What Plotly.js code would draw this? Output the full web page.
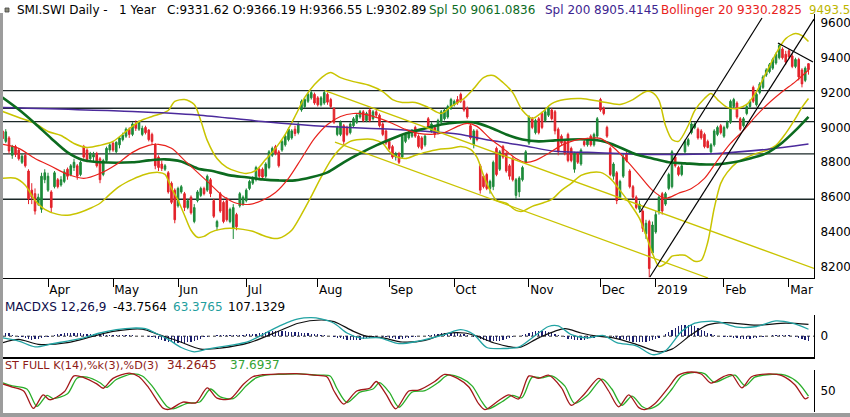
<!DOCTYPE html>
<html>
<head>
<meta charset="utf-8">
<script src="https://cdn.plot.ly/plotly-3.0.1.min.js"></script>
<style>
  html, body { margin: 0; padding: 0; background: #fff; }
  #chart { width: 850px; height: 417px; }
</style>
</head>
<body>
<div id="chart"></div>
<script>
// SMI daily sessions, index 0 = first visible day (mid March 2018)
const open = [
  8980, 8920, 8940, 8840, 8890, 8870, 8800, 8840, 8750, 8640,
  8620, 8560, 8530, 8700, 8640, 8630, 8660, 8700, 8670, 8690,
  8760, 8730, 8770, 8780, 8730, 8890, 8870, 8820, 8830, 8850,
  8820, 8730, 8810, 8870, 8910, 8860, 8900, 8930, 8950, 8990,
  8960, 9020, 8990, 8960, 9000, 8985, 8960, 8900, 8830, 8790,
  8760, 8740, 8680, 8640, 8550, 8630, 8620, 8540, 8600, 8460,
  8580, 8610, 8650, 8640, 8700, 8580, 8430, 8620, 8570, 8580,
  8460, 8420, 8500, 8550, 8560, 8580, 8650, 8680, 8700, 8760,
  8760, 8720, 8770, 8840, 8890, 8860, 8870, 8900, 8930, 8940,
  8990, 8970, 9100, 9120, 9150, 9170, 9190, 9170, 9130, 9140,
  9190, 9160, 9110, 8960, 8960, 9010, 9000, 8970, 9010, 9030,
  9060, 9090, 9040, 9100, 9050, 9090, 9070, 9020, 8980, 8920,
  8890, 8830, 8850, 8830, 8920, 8940, 8950, 9000, 8950, 8940,
  8900, 9050, 8980, 9000, 8970, 9030, 9050, 9060, 9110, 9130,
  9160, 9190, 9150, 9110, 9010, 8900, 8980, 8780, 8720, 8730,
  8650, 8660, 8880, 8760, 8890, 8850, 8780, 8820, 8610, 8630,
  8700, 8800, 8910, 9050, 8970, 9050, 9080, 9040, 9070, 9100,
  9090, 8990, 8950, 8920, 8960, 8880, 8760, 8850, 8790, 8920,
  8900, 8950, 8900, 8950, 9160, 9110, 9000, 8880, 8720, 8740,
  8600, 8720, 8850, 8750, 8660, 8600, 8530, 8520, 8390, 8460,
  8280, 8400, 8520, 8620, 8560, 8650, 8660, 8830, 8770, 8730,
  8860, 8900, 8970, 9000, 8990, 8980, 8960, 8920, 8860, 8900,
  8960, 9010, 8950, 9000, 9030, 9120, 9140, 9050, 9010, 9080,
  9120, 9230, 9130, 9200, 9230, 9300, 9320, 9340, 9370, 9400,
  9450, 9420, 9440, 9410, 9350, 9390, 9330, 9270, 9366.19
];
const high = [
  8995, 8990, 8950, 8900, 8900, 8880, 8850, 8850, 8760, 8680,
  8650, 8620, 8740, 8760, 8740, 8640, 8750, 8710, 8720, 8760,
  8770, 8790, 8820, 8790, 8810, 8900, 8880, 8860, 8860, 8860,
  8830, 8820, 8890, 8910, 8920, 8920, 8950, 8970, 9000, 9000,
  9030, 9040, 9040, 9010, 9010, 8990, 8970, 8910, 8840, 8810,
  8790, 8750, 8690, 8650, 8660, 8670, 8630, 8590, 8610, 8560,
  8640, 8660, 8660, 8730, 8710, 8590, 8470, 8630, 8580, 8600,
  8540, 8560, 8510, 8630, 8610, 8650, 8700, 8720, 8780, 8770,
  8770, 8800, 8870, 8890, 8900, 8870, 8930, 8960, 9000, 8990,
  9010, 9030, 9160, 9170, 9200, 9210, 9200, 9180, 9180, 9210,
  9200, 9170, 9115, 9010, 9040, 9020, 9010, 9030, 9060, 9080,
  9100, 9100, 9090, 9110, 9100, 9100, 9080, 9030, 8990, 8930,
  8900, 8860, 8860, 8960, 8970, 8980, 8990, 9010, 8960, 8950,
  8960, 9060, 9030, 9010, 9050, 9100, 9110, 9130, 9170, 9160,
  9180, 9200, 9160, 9120, 9020, 8990, 8990, 8790, 8730, 8740,
  8700, 8810, 8890, 8870, 8900, 8860, 8790, 8830, 8710, 8720,
  8780, 8870, 9070, 9060, 9050, 9060, 9090, 9100, 9120, 9110,
  9100, 9000, 8960, 8930, 8970, 8890, 8860, 8860, 8880, 8930,
  8940, 8960, 8970, 9060, 9170, 9120, 9010, 8890, 8800, 8750,
  8700, 8850, 8860, 8760, 8670, 8610, 8580, 8530, 8470, 8470,
  8460, 8520, 8610, 8630, 8630, 8740, 8870, 8840, 8780, 8790,
  8930, 8940, 9030, 9030, 9000, 8990, 8970, 8930, 8910, 8990,
  9010, 9020, 9010, 9040, 9160, 9170, 9150, 9060, 9060, 9130,
  9160, 9240, 9200, 9260, 9300, 9340, 9370, 9400, 9430, 9485,
  9460, 9440, 9450, 9420, 9400, 9400, 9340, 9350, 9366.55
];
const low = [
  8920, 8910, 8850, 8820, 8830, 8810, 8790, 8770, 8560, 8560,
  8500, 8550, 8510, 8680, 8630, 8510, 8650, 8650, 8660, 8680,
  8700, 8720, 8750, 8700, 8720, 8820, 8800, 8810, 8800, 8770,
  8680, 8720, 8800, 8855, 8860, 8850, 8880, 8920, 8940, 8940,
  8950, 8980, 8980, 8950, 8960, 8920, 8900, 8760, 8750, 8750,
  8750, 8620, 8560, 8450, 8540, 8620, 8520, 8530, 8500, 8450,
  8570, 8600, 8610, 8630, 8600, 8480, 8410, 8510, 8450, 8460,
  8450, 8360, 8410, 8540, 8550, 8570, 8640, 8670, 8690, 8700,
  8700, 8710, 8760, 8830, 8840, 8770, 8860, 8890, 8920, 8930,
  8950, 8960, 9090, 9110, 9140, 9160, 9130, 9120, 9120, 9130,
  9130, 9110, 9020, 8950, 8950, 8900, 8950, 8960, 9000, 9020,
  9050, 9030, 9030, 9030, 9040, 9060, 9000, 8950, 8900, 8870,
  8820, 8810, 8790, 8820, 8910, 8930, 8940, 8940, 8880, 8870,
  8890, 8990, 8970, 8940, 8960, 9020, 9040, 9050, 9100, 9120,
  9130, 9140, 9090, 9050, 8930, 8880, 8920, 8620, 8650, 8640,
  8620, 8640, 8720, 8750, 8820, 8740, 8700, 8690, 8590, 8600,
  8690, 8790, 8900, 8990, 8960, 8960, 8990, 9030, 9060, 9040,
  8960, 8840, 8900, 8840, 8800, 8800, 8740, 8790, 8780, 8890,
  8890, 8890, 8890, 8940, 9090, 9070, 8940, 8720, 8700, 8560,
  8590, 8710, 8800, 8650, 8590, 8530, 8510, 8400, 8360, 8140,
  8270, 8390, 8500, 8500, 8550, 8640, 8650, 8770, 8720, 8720,
  8850, 8890, 8960, 8990, 8930, 8930, 8880, 8880, 8850, 8890,
  8950, 8960, 8940, 8990, 9020, 9110, 9050, 8980, 9000, 9070,
  9110, 9140, 9120, 9190, 9220, 9290, 9310, 9330, 9360, 9390,
  9390, 9360, 9395, 9340, 9340, 9270, 9230, 9260, 9302.89
];
const close = [
  8935, 8975, 8865, 8890, 8845, 8820, 8835, 8780, 8590, 8600,
  8520, 8600, 8720, 8740, 8720, 8540, 8740, 8660, 8700, 8745,
  8720, 8780, 8800, 8720, 8800, 8830, 8815, 8850, 8845, 8780,
  8700, 8810, 8880, 8900, 8870, 8915, 8940, 8955, 8990, 8960,
  9020, 8995, 9030, 8995, 8970, 8930, 8920, 8780, 8770, 8765,
  8780, 8630, 8570, 8470, 8650, 8660, 8540, 8580, 8510, 8540,
  8630, 8650, 8620, 8720, 8620, 8490, 8460, 8520, 8460, 8470,
  8530, 8540, 8430, 8620, 8600, 8640, 8690, 8710, 8770, 8720,
  8715, 8790, 8860, 8880, 8850, 8780, 8920, 8950, 8990, 8980,
  8965, 9020, 9150, 9160, 9190, 9200, 9140, 9130, 9170, 9200,
  9145, 9120, 9030, 9000, 9030, 8920, 8960, 9020, 9050, 9070,
  9090, 9040, 9080, 9040, 9090, 9070, 9010, 8960, 8910, 8880,
  8830, 8850, 8800, 8950, 8960, 8970, 8985, 8950, 8890, 8880,
  8950, 9000, 9020, 8960, 9040, 9090, 9100, 9120, 9160, 9150,
  9140, 9150, 9100, 9060, 8940, 8980, 8930, 8640, 8660, 8650,
  8690, 8800, 8730, 8860, 8830, 8750, 8720, 8700, 8700, 8710,
  8770, 8860, 9060, 9000, 9040, 8970, 9000, 9090, 9110, 9050,
  8980, 8860, 8910, 8850, 8810, 8810, 8850, 8800, 8870, 8900,
  8930, 8900, 8960, 9050, 9100, 9080, 8950, 8730, 8790, 8580,
  8690, 8830, 8810, 8660, 8600, 8540, 8560, 8420, 8450, 8190,
  8440, 8500, 8600, 8520, 8620, 8730, 8860, 8780, 8730, 8780,
  8920, 8930, 9020, 9020, 8940, 8940, 8890, 8885, 8900, 8980,
  9000, 8970, 9000, 9030, 9150, 9160, 9060, 8990, 9050, 9120,
  9150, 9150, 9190, 9250, 9290, 9330, 9360, 9390, 9420, 9470,
  9400, 9375, 9405, 9350, 9390, 9290, 9250, 9340, 9331.62
];

// moving averages and Bollinger bands at sample sessions
const sma50At = [0, 5, 10, 15, 20, 25, 30, 40, 45, 50, 55, 60, 65, 70, 75, 80, 85, 90, 95, 100, 105, 110, 115, 120, 125, 130, 135, 140, 145, 150, 155, 160, 165, 170, 175, 180, 185, 190, 195, 200, 205, 210, 215, 220, 225, 230, 235, 240, 244, 248];
const sma50 = [9172, 9103, 9023, 8937, 8857, 8811, 8800, 8800, 8811, 8817, 8805, 8765, 8748, 8725, 8714, 8702, 8696, 8696, 8714, 8742, 8800, 8851, 8897, 8937, 8971, 8994, 9017, 9029, 9029, 9000, 8960, 8931, 8920, 8926, 8931, 8931, 8920, 8885, 8845, 8822, 8800, 8794, 8788, 8788, 8800, 8822, 8851, 8914, 8983, 9061];

const sma200At = [0, 40, 60, 80, 100, 120, 140, 150, 160, 170, 180, 200, 220, 235, 248];
const sma200 = [9115, 9092, 9072, 9034, 9005, 8990, 8962, 8926, 8897, 8863, 8857, 8845, 8851, 8874, 8905];

const bollMidAt = [0, 5, 10, 15, 20, 25, 30, 35, 40, 45, 48, 52, 56, 60, 64, 68, 72, 76, 80, 84, 88, 92, 96, 100, 104, 108, 112, 116, 120, 124, 128, 132, 136, 140, 143, 146, 150, 154, 158, 161, 164, 168, 172, 176, 180, 184, 188, 192, 196, 200, 204, 208, 212, 216, 220, 224, 228, 232, 236, 240, 244, 248];
const bollMid = [8903, 8880, 8822, 8777, 8731, 8708, 8736, 8788, 8857, 8897, 8903, 8880, 8811, 8742, 8673, 8604, 8565, 8559, 8582, 8627, 8708, 8822, 8937, 9017, 9063, 9080, 9074, 9052, 9023, 8989, 8966, 8960, 8971, 9006, 9023, 9006, 8937, 8880, 8822, 8800, 8811, 8851, 8897, 8926, 8937, 8937, 8885, 8811, 8725, 8639, 8593, 8622, 8650, 8708, 8811, 8908, 8983, 9069, 9143, 9206, 9263, 9330];

const bollUpAt = [0, 5, 10, 14, 18, 22, 26, 30, 34, 38, 42, 46, 49, 51, 53, 56, 59, 61, 63, 66, 69, 72, 75, 78, 81, 84, 87, 90, 93, 96, 99, 101, 104, 108, 113, 117, 120, 123, 127, 131, 135, 138, 142, 145, 148, 151, 154, 157, 160, 163, 166, 169, 173, 178, 184, 190, 194, 198, 200, 202, 204, 206, 208, 211, 213, 216, 218, 220, 223, 226, 229, 232, 235, 238, 241, 244, 246, 248];
const bollUp = [9092, 9057, 9023, 8977, 8954, 8908, 8885, 8897, 8920, 8977, 9034, 9063, 9080, 9097, 9149, 9160, 9132, 9040, 8926, 8822, 8771, 8748, 8736, 8754, 8817, 8880, 8960, 9063, 9172, 9246, 9298, 9315, 9286, 9263, 9241, 9206, 9160, 9143, 9143, 9115, 9080, 9120, 9166, 9223, 9286, 9298, 9258, 9200, 9097, 9052, 9086, 9137, 9160, 9166, 9149, 9132, 9160, 9206, 9200, 9155, 9011, 8931, 8920, 9011, 9097, 9166, 9195, 9160, 9115, 9109, 9132, 9206, 9315, 9424, 9510, 9539, 9527, 9493];

const bollLowAt = [0, 4, 7, 10, 13, 17, 20, 24, 27, 30, 33, 36, 40, 44, 48, 50, 52, 54, 56, 58, 60, 62, 64, 67, 70, 74, 77, 80, 83, 85, 87, 89, 92, 95, 98, 101, 104, 107, 110, 114, 117, 119, 121, 124, 127, 130, 134, 138, 141, 144, 146, 148, 150, 152, 155, 158, 160, 163, 166, 169, 172, 175, 178, 181, 184, 187, 190, 193, 196, 198, 200, 202, 204, 206, 208, 210, 213, 215, 217, 219, 221, 223, 226, 229, 232, 235, 238, 241, 244, 246, 248];
const bollLow = [8708, 8708, 8668, 8582, 8530, 8501, 8496, 8513, 8536, 8565, 8616, 8662, 8702, 8731, 8742, 8731, 8650, 8582, 8496, 8410, 8370, 8375, 8398, 8415, 8421, 8415, 8404, 8381, 8364, 8364, 8381, 8410, 8501, 8604, 8713, 8811, 8880, 8920, 8931, 8931, 8908, 8862, 8834, 8822, 8840, 8857, 8874, 8880, 8891, 8874, 8828, 8725, 8639, 8582, 8565, 8524, 8519, 8547, 8565, 8587, 8639, 8679, 8725, 8742, 8742, 8708, 8639, 8565, 8478, 8381, 8278, 8203, 8220, 8261, 8267, 8267, 8232, 8238, 8341, 8536, 8679, 8742, 8800, 8828, 8851, 8868, 8897, 8966, 9052, 9115, 9166];

// support / resistance levels and trend lines [idx0, price0, idx1, price1]
const levels = [9211, 9110, 9033, 8848, 8588];
const yellowTrends = [[99.2, 9211, 249.7, 8191], [102.3, 8916, 217.1, 8136]];
const blackTrends = [[196.2, 8515, 233.7, 9628], [199.2, 8142, 249.7, 9622], [238.6, 9485, 249.4, 9376]];

// MACD 12,26,9
const macdAt = [0, 5, 10, 15, 20, 25, 30, 35, 40, 44, 47, 51, 55, 59, 63, 67, 71, 76, 81, 86, 91, 95, 98, 102, 106, 110, 116, 122, 128, 136, 141, 145, 149, 154, 159, 163, 168, 171, 175, 180, 185, 189, 195, 200, 204, 209, 213, 216, 220, 226, 232, 238, 243, 248];
const macd = [-15, -44, -97, -71, -44, -15, 29, 59, 74, 68, 29, -29, -103, -142, -118, -97, -80, -44, 29, 103, 157, 168, 157, 118, 29, -15, -15, -68, -44, 15, 59, 15, -103, -112, -97, -15, 88, 94, 15, -15, 6, -59, -88, -168, -133, 44, 118, 133, 133, 82, 88, 139, 118, 63];
const signalAt = [0, 5, 11, 20, 28, 34, 43, 48, 54, 61, 67, 76, 86, 91, 98, 102, 108, 112, 117, 123, 130, 136, 142, 146, 151, 159, 165, 173, 178, 183, 188, 195, 202, 206, 212, 217, 222, 232, 241, 248];
const signal = [-59, -29, -74, -59, 0, 44, 65, 15, -44, -118, -109, -59, 59, 118, 147, 133, 44, 0, -15, -53, -38, 21, 29, 0, -59, -103, -15, 68, 29, 0, -15, -74, -142, -118, 15, 103, 124, 100, 118, 107];
const hist = [
  40, 32, 25, 15, 5,
  -5, -12, -20, -28, -32, -30, -25, -18, -10, -3,
  5, 12, 18, 22, 25, 27, 28, 28, 27, 25, 24, 22, 20, 19, 18,
  17, 16, 15, 15, 14, 13, 12, 11, 10, 9, 8, 6, 5, 3, 1,
  -4, -10, -18, -26, -34, -42, -50, -56, -60, -62, -62, -60, -56, -50, -42, -33, -22, -12,
  -4, 1, 4, 7, 9, 11, 12, 13, 14, 14, 15, 15, 16,
  17, 20, 24, 28, 32, 36, 40, 43, 45, 46, 45, 44, 42, 40, 38, 36, 33, 30, 27, 24,
  20, 16, 12, 8, 4, 0, -6, -13, -20, -27, -33, -37, -38, -36, -32, -27, -21, -15, -10, -6,
  -2, -6, -11, -16, -20, -23, -24, -22, -18, -14, -10, -6, -2, 2, 6,
  10, 14, 18, 22, 26, 28, 30, 31, 30, 28, 24, 18, 10, 2, -8,
  -12, -22, -32, -40, -45, -46, -44, -40, -34, -26, -18, -10, -2, 6, 14, 22, 30,
  38, 44, 48, 50, 48, 42, 34, 24, 12, 0, -12, -22, -30, -36, -38, -36, -32, -26, -20, -14, -8, -2, 4,
  6, 2, -6, -14, -22, -30, -38, -44, -50, -54, -56, -56, -52, -46, -38,
  -30, -15, 2, 20, 40, 60, 78, 92, 102, 106, 105, 100, 90, 76, 60, 44, 30, 18, 10, 4,
  0, -4, -8, -12, -16, -20, -24, -26, -26, -24, -20, -15, -10, -5, 0,
  4, 8, 12, 14, 14, 12, 8, 2, -6, -16, -26, -36, -44
];

// full stochastic 14,3,3
const stochKAt = [0, 3, 6.5, 9.5, 12.5, 14.5, 19, 22, 25, 29, 31, 34, 39, 42, 45, 49.5, 51.5, 55.5, 59.5, 63, 66, 70, 74, 77, 80, 85, 90.5, 95.8, 99.8, 102, 105, 109, 113, 115, 118, 121, 125, 128, 133, 136, 140, 143.5, 146.5, 148.4, 152.7, 155.8, 158.8, 162, 165, 168, 172, 175, 179, 183.5, 186.5, 189.6, 192.7, 195.8, 197.6, 200.7, 205, 208, 212, 215, 218, 222, 224.4, 227.5, 230.5, 235.8, 239.8, 243.8, 247, 248];
const stochK = [68, 60, 50, 6, 40, 28, 48, 88, 84, 68, 57, 82, 95, 86, 58, 6, 4, 22, 20, 58, 32, 30, 66, 86, 91, 93, 94, 90, 86, 50, 17, 50, 57, 74, 42, 5, 50, 52, 74, 92, 82, 60, 18, 3, 26, 40, 30, 88, 82, 90, 58, 14, 42, 82, 50, 10, 40, 8, 3, 18, 60, 90, 98, 93, 70, 87, 91, 58, 86, 93, 89, 66, 30, 34];
const stochDAt = [0, 3, 7.5, 10.6, 13.7, 15.5, 20, 23, 26, 30, 32, 35, 40, 43, 46, 50.6, 52.5, 56.8, 60.8, 64, 67, 71, 75, 78, 81, 86, 91.5, 96.8, 100.8, 103, 106, 110, 114, 116, 119, 122, 126, 130, 134, 137, 141, 144.5, 147.5, 149.4, 153.7, 156.8, 159.8, 163, 166, 169, 173, 176, 180, 184.5, 187.5, 190.6, 193.7, 196.8, 198.6, 201.7, 206, 209, 213, 216, 219, 223, 225.4, 228.5, 231.5, 236.8, 240.8, 244.8, 248];
const stochD = [71, 63, 55, 11, 39, 31, 43, 83, 85, 71, 59, 79, 93, 88, 63, 11, 5, 19, 23, 55, 35, 31, 63, 83, 90, 92, 93, 90, 88, 55, 21, 47, 55, 71, 47, 9, 47, 51, 71, 90, 83, 63, 23, 5, 23, 39, 33, 85, 83, 88, 63, 19, 39, 80, 55, 14, 37, 11, 5, 15, 55, 88, 97, 94, 72, 85, 90, 63, 85, 92, 90, 71, 37];

// axis labels
const monthStart = [14, 34, 54, 75, 97, 119, 139, 162, 184, 201, 222, 242];
const monthLabels = ['Apr', 'May', 'Jun', 'Jul', 'Aug', 'Sep', 'Oct', 'Nov', 'Dec', '2019', 'Feb', 'Mar'];
const priceTicks = [8200, 8400, 8600, 8800, 9000, 9200, 9400, 9600];

const days = close.map((_, i) => i);
const xRange = [0.15, 249.7];

const YELLOW = '#c9c400';
const GREEN = '#0c6b1f';

function line(x, y, color, width, xa, ya) {
  return {
    type: 'scatter', mode: 'lines', x: x, y: y,
    xaxis: xa || 'x', yaxis: ya || 'y',
    line: { color: color, width: width, shape: 'spline', smoothing: 0.8 },
    hoverinfo: 'skip'
  };
}

const data = [
  line(bollUpAt, bollUp, YELLOW, 1.5),
  line(bollLowAt, bollLow, YELLOW, 1.5),
  line(sma200At, sma200, '#4b2a9c', 1.5),
  line(sma50At, sma50, GREEN, 2.6),
  line(bollMidAt, bollMid, '#e8221c', 1.2),
  {
    type: 'candlestick', x: days, open: open, high: high, low: low, close: close,
    xaxis: 'x', yaxis: 'y', whiskerwidth: 0, hoverinfo: 'skip',
    increasing: { line: { color: '#1d8a3a', width: 1 }, fillcolor: '#1d8a3a' },
    decreasing: { line: { color: '#e3232b', width: 1 }, fillcolor: '#e3232b' }
  },
  {
    type: 'bar', x: days, y: hist, xaxis: 'x2', yaxis: 'y2', width: 0.45,
    marker: { color: '#1c1f6e', line: { width: 0 } }, hoverinfo: 'skip'
  },
  line(signalAt, signal, '#111111', 1.2, 'x2', 'y2'),
  line(macdAt, macd, '#22a3a3', 1.3, 'x2', 'y2'),
  line(stochDAt, stochD, '#2aae2a', 1.3, 'x3', 'y3'),
  line(stochKAt, stochK, '#a3181a', 1.3, 'x3', 'y3')
];

// pixel helpers for texts and frame (plot area 3..814 x 14..412)
const px = (x) => (x - 3) / 811;
const py = (y) => (412 - y) / 398;

function label(text, x, y, color, size) {
  return {
    text: text, x: px(x), y: py(y), xref: 'paper', yref: 'paper',
    xanchor: 'left', yanchor: 'middle', showarrow: false, borderpad: 0,
    font: { family: 'DejaVu Sans, sans-serif', size: size || 12, color: color }
  };
}

const annotations = [
  label('SMI.SWI Daily -\u00a0\u00a0 1 Year', 16, 10, '#000'),
  label('C:9331.62 O:9366.19 H:9366.55 L:9302.89', 166, 10, '#000'),
  label('Spl 50 9061.0836', 428, 10, GREEN),
  label('Spl 200 8905.4145', 544, 10, '#3d2590'),
  label('Bollinger 20 9330.2825', 660, 10, '#e8221c'),
  label('9493.5', 808, 10, '#bdb600', 11.8),
  label('MACDXS 12,26,9', 4, 307, '#0d0d4a'),
  label('-43.7564', 112, 307, '#000'),
  label('63.3765', 172, 307, '#1f9e9e'),
  label('107.1329', 227, 307, '#000'),
  label('ST FULL K(14),%k(3),%D(3)', 4, 365, '#8e1a16', 11.2),
  label('34.2645', 166, 365, '#8e1a16'),
  label('37.6937', 229, 365, '#34a234')
];

const shapes = [];
levels.forEach((v) => shapes.push({
  type: 'line', xref: 'paper', yref: 'y', x0: 0, x1: 1, y0: v, y1: v,
  line: { color: '#1b2828', width: 1.3 }, layer: 'below'
}));
yellowTrends.forEach((t) => shapes.push({
  type: 'line', xref: 'x', yref: 'y', x0: t[0], y0: t[1], x1: t[2], y1: t[3],
  line: { color: YELLOW, width: 1.3 }
}));
blackTrends.forEach((t) => shapes.push({
  type: 'line', xref: 'x', yref: 'y', x0: t[0], y0: t[1], x1: t[2], y1: t[3],
  line: { color: '#000', width: 1.2 }
}));
// dotted zero line of the MACD panel
shapes.push({
  type: 'line', xref: 'paper', yref: 'y2', x0: 0, x1: 1, y0: 0, y1: 0,
  line: { color: '#333', width: 1, dash: 'dot' }, layer: 'below'
});
// window frame and the little icon before the title
shapes.push({
  type: 'line', xref: 'paper', yref: 'paper', x0: px(1.5), x1: px(1.5), y0: py(13), y1: py(417),
  line: { color: '#9c9c9c', width: 3 }
});
shapes.push({
  type: 'line', xref: 'paper', yref: 'paper', x0: px(0), x1: px(850), y0: py(415), y1: py(415),
  line: { color: '#9c9c9c', width: 4 }
});
shapes.push({
  type: 'rect', xref: 'paper', yref: 'paper', x0: px(5), x1: px(9), y0: py(12), y1: py(8),
  fillcolor: '#8a8a7a', line: { color: '#444', width: 0.8 }
});

const baseY = {
  side: 'right', showgrid: false, zeroline: false, ticks: '',
  showline: true, linecolor: '#000', linewidth: 1, ticklabelstandoff: 3,
  tickfont: { family: 'DejaVu Sans, sans-serif', size: 12, color: '#000' },
  fixedrange: true
};

const layout = {
  width: 850, height: 417,
  margin: { l: 3, r: 36, t: 14, b: 5 },
  paper_bgcolor: '#fff', plot_bgcolor: '#fff',
  showlegend: false, hovermode: false, dragmode: false,
  font: { family: 'DejaVu Sans, sans-serif', size: 12, color: '#000' },
  xaxis: {
    domain: [0, 1], range: xRange, anchor: 'y',
    tickmode: 'array', tickvals: monthStart, ticktext: monthLabels,
    ticks: 'outside', ticklen: 8, tickwidth: 1, tickcolor: '#000',
    ticklabelposition: 'outside right',
    tickfont: { family: 'DejaVu Sans, sans-serif', size: 12, color: '#000' },
    showline: true, linecolor: '#000', linewidth: 1.5,
    showgrid: false, zeroline: false, rangeslider: { visible: false }, fixedrange: true
  },
  yaxis: Object.assign({}, baseY, {
    domain: [0.3367, 1], range: [8136, 9651], tickmode: 'array', tickvals: priceTicks
  }),
  xaxis2: {
    domain: [0, 1], range: xRange, anchor: 'y2', showticklabels: false, ticks: '',
    showline: true, linecolor: '#000', linewidth: 1.5, showgrid: false, zeroline: false, fixedrange: true
  },
  yaxis2: Object.assign({}, baseY, {
    domain: [0.138, 0.243], range: [-190, 190], tickmode: 'array', tickvals: [0]
  }),
  xaxis3: {
    domain: [0, 1], range: xRange, anchor: 'y3', showticklabels: false, ticks: '',
    showline: false, showgrid: false, zeroline: false, fixedrange: true
  },
  yaxis3: Object.assign({}, baseY, {
    domain: [0, 0.1055], range: [-3, 103], tickmode: 'array', tickvals: [50]
  }),
  bargap: 0,
  shapes: shapes,
  annotations: annotations
};

Plotly.newPlot('chart', data, layout, { displayModeBar: false, staticPlot: true });
</script>
</body>
</html>
